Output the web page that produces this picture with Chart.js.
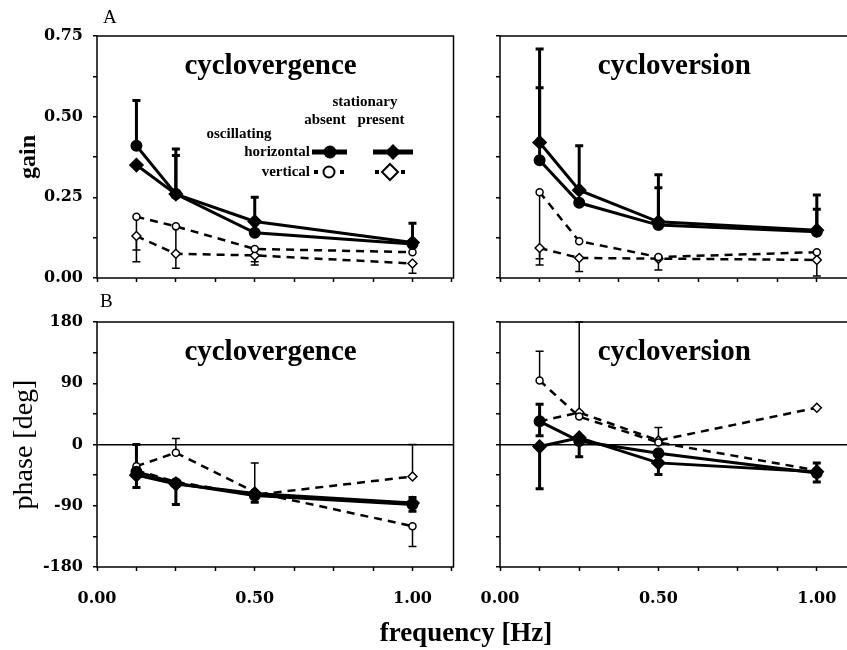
<!DOCTYPE html>
<html>
<head>
<meta charset="utf-8">
<script src="https://cdn.jsdelivr.net/npm/chart.js@4.4.1/dist/chart.umd.min.js"></script>
<style>
  html, body { margin: 0; padding: 0; background: #fff; overflow: hidden; }
  body { position: relative; width: 847px; height: 650px; font-family: "Liberation Serif", serif; }
  canvas { position: absolute; }
  .lbl { position: absolute; color: #000; white-space: nowrap; }
</style>
</head>
<body>
<canvas id="gainVerg" width="470" height="300" style="left:0;top:0"></canvas>
<canvas id="gainVers" width="420" height="300" style="left:460px;top:0"></canvas>
<canvas id="phaseVerg" width="470" height="320" style="left:0;top:300px"></canvas>
<canvas id="phaseVers" width="420" height="320" style="left:460px;top:300px"></canvas>
<div class="lbl" style="left:103px;top:6px;font-size:19px">A</div>
<div class="lbl" style="left:100px;top:290px;font-size:19px">B</div>
<div class="lbl" style="left:316px;top:616px;width:300px;text-align:center;font-size:27px;font-weight:bold;line-height:32px">frequency [Hz]</div>
<script>
// stimulus frequencies (Hz)
var freq = [0.125, 0.25, 0.5, 1.0];

// A: gain, cyclovergence
var gainVergHorAbs  = [0.41, 0.26, 0.14, 0.105];
var gainVergHorPres = [0.35, 0.26, 0.175, 0.11];
var gainVergVerAbs  = [0.19, 0.16, 0.09, 0.08];
var gainVergVerPres = [0.13, 0.075, 0.07, 0.045];
// error bar ends [low, high], null = not drawn
var gainVergHorAbsErr  = [[null, 0.55], [null, 0.40], [null, null], [null, null]];
var gainVergHorPresErr = [[null, null], [null, 0.38], [null, 0.25], [null, 0.17]];
var gainVergVerAbsErr  = [[0.05, null], [0.03, null], [0.04, null], [null, null]];
var gainVergVerPresErr = [[0.087, null], [null, null], [0.05, null], [0.015, null]];

// A: gain, cycloversion
var gainVersHorAbs  = [0.365, 0.233, 0.164, 0.143];
var gainVersHorPres = [0.42, 0.272, 0.174, 0.148];
var gainVersVerAbs  = [0.266, 0.114, 0.065, 0.08];
var gainVersVerPres = [0.093, 0.062, 0.06, 0.056];
var gainVersHorAbsErr  = [[null, 0.59], [null, null], [null, 0.28], [null, 0.213]];
var gainVersHorPresErr = [[null, 0.71], [null, 0.41], [null, 0.32], [null, 0.257]];
var gainVersVerAbsErr  = [[0.04, null], [null, null], [null, null], [null, null]];
var gainVersVerPresErr = [[0.06, null], [0.02, null], [0.025, null], [0.006, null]];

// B: phase, cyclovergence (deg)
var phaseVergHorAbs  = [-40, -57, -75, -88];
var phaseVergHorPres = [-45, -58, -72, -86];
var phaseVergVerAbs  = [-32, -12, -70, -120];
var phaseVergVerPres = [-38, -55, -74, -47];
var phaseVergHorAbsErr  = [[-63, 0], [-88, null], [-85, null], [-98, -78]];
var phaseVergHorPresErr = [[null, null], [null, null], [null, null], [null, null]];
var phaseVergVerAbsErr  = [[null, null], [null, 9], [null, -27], [-150, null]];
var phaseVergVerPresErr = [[null, null], [null, null], [null, null], [null, 0]];

// B: phase, cycloversion (deg)
var phaseVersHorAbs  = [34, 5, -13, -42];
var phaseVersHorPres = [-3, 10, -27, -40];
var phaseVersVerAbs  = [94, 41, 3, -38];
var phaseVersVerPres = [34, 47, 6, 54];
var phaseVersHorAbsErr  = [[13, 59], [-18, null], [null, null], [-55, -27]];
var phaseVersHorPresErr = [[-65, null], [null, null], [-44, null], [null, null]];
var phaseVersVerAbsErr  = [[null, 137], [null, null], [null, null], [null, null]];
var phaseVersVerPresErr = [[null, null], [null, 180], [null, 25], [null, null]];

var tickFont = { family: 'DejaVu Serif', weight: 'bold', size: 16 };

var styles = {
  horAbs:  { borderWidth: 3, pointStyle: 'circle',  pointRadius: 4.5, pointBackgroundColor: '#000', errWidth: 3 },
  horPres: { borderWidth: 3, pointStyle: 'rectRot', pointRadius: 5.5, pointBackgroundColor: '#000', errWidth: 3 },
  verAbs:  { borderWidth: 2.5, borderDash: [8, 6], pointStyle: 'circle',  pointRadius: 3.5, pointBackgroundColor: '#fff', pointBorderWidth: 1.5, errWidth: 1.5 },
  verPres: { borderWidth: 2.5, borderDash: [8, 6], pointStyle: 'rectRot', pointRadius: 4.5, pointBackgroundColor: '#fff', pointBorderWidth: 1.5, errWidth: 1.5 }
};

function series(values, err, kind) {
  var ds = {
    data: freq.map(function (f, i) { return { x: f, y: values[i] }; }),
    err: err,
    borderColor: '#000',
    pointBorderColor: '#000',
    tension: 0
  };
  return Object.assign(ds, styles[kind]);
}

// box around the plot area
var frame = {
  id: 'frame',
  beforeDatasetsDraw: function (chart) {
    var a = chart.chartArea, ctx = chart.ctx;
    ctx.save();
    ctx.strokeStyle = '#000';
    ctx.lineWidth = 1.5;
    ctx.strokeRect(a.left, a.top, a.right - a.left, a.bottom - a.top);
    ctx.restore();
  }
};

// one-sided error bars
var errorBars = {
  id: 'errorBars',
  beforeDatasetsDraw: function (chart) {
    var ctx = chart.ctx, ys = chart.scales.y;
    chart.data.datasets.forEach(function (ds, di) {
      if (!ds.err) return;
      var meta = chart.getDatasetMeta(di);
      ctx.save();
      ctx.strokeStyle = '#000';
      ctx.lineWidth = ds.errWidth;
      ds.err.forEach(function (e, i) {
        var pt = meta.data[i];
        e.forEach(function (v) {
          if (v === null) return;
          var yy = ys.getPixelForValue(v);
          ctx.beginPath();
          ctx.moveTo(pt.x, pt.y);
          ctx.lineTo(pt.x, yy);
          ctx.moveTo(pt.x - 4, yy);
          ctx.lineTo(pt.x + 4, yy);
          ctx.stroke();
        });
      });
      ctx.restore();
    });
  }
};

var panelTitle = {
  id: 'panelTitle',
  afterDraw: function (chart, args, opts) {
    var ctx = chart.ctx;
    ctx.save();
    ctx.fillStyle = '#000';
    ctx.font = 'bold 29px "Liberation Serif"';
    ctx.textAlign = 'center';
    ctx.textBaseline = 'middle';
    ctx.fillText(opts.text, chart.scales.x.getPixelForValue(0.55), chart.chartArea.top + 31);
    ctx.restore();
  }
};

// the 2x2 key in the first panel
var keyBox = {
  id: 'keyBox',
  afterDraw: function (chart) {
    var ctx = chart.ctx, L = chart.chartArea.left, T = chart.chartArea.top;
    ctx.save();
    ctx.fillStyle = '#000';
    ctx.strokeStyle = '#000';
    ctx.font = 'bold 15px "Liberation Serif"';
    ctx.textBaseline = 'middle';
    ctx.textAlign = 'center';
    ctx.fillText('stationary', L + 268, T + 66);
    ctx.fillText('absent', L + 228, T + 84);
    ctx.fillText('present', L + 284, T + 84);
    ctx.fillText('oscillating', L + 142, T + 98);
    ctx.textAlign = 'right';
    ctx.fillText('horizontal', L + 213, T + 116);
    ctx.fillText('vertical', L + 213, T + 136);

    // horizontal: thick solid with filled marker
    ctx.lineWidth = 5;
    ctx.beginPath();
    ctx.moveTo(L + 215, T + 116); ctx.lineTo(L + 250, T + 116);
    ctx.moveTo(L + 276, T + 116); ctx.lineTo(L + 316, T + 116);
    ctx.stroke();
    ctx.beginPath();
    ctx.arc(L + 233, T + 116, 6.5, 0, Math.PI * 2);
    ctx.fill();
    ctx.beginPath();
    ctx.moveTo(L + 296, T + 108); ctx.lineTo(L + 304, T + 116);
    ctx.lineTo(L + 296, T + 124); ctx.lineTo(L + 288, T + 116);
    ctx.closePath();
    ctx.fill();

    // vertical: dash bits with open marker
    [219, 245, 280, 306].forEach(function (dx) {
      ctx.fillRect(L + dx - 2, T + 134, 4, 4);
    });
    ctx.lineWidth = 2;
    ctx.beginPath();
    ctx.arc(L + 232, T + 136, 5.5, 0, Math.PI * 2);
    ctx.stroke();
    ctx.beginPath();
    ctx.moveTo(L + 293, T + 128); ctx.lineTo(L + 301, T + 136);
    ctx.lineTo(L + 293, T + 144); ctx.lineTo(L + 285, T + 136);
    ctx.closePath();
    ctx.stroke();
    ctx.restore();
  }
};

function makePanel(id, o) {
  var isPhase = o.kind === 'phase';
  var plugins = [frame, errorBars, panelTitle];
  if (o.key) plugins.push(keyBox);
  return new Chart(document.getElementById(id), {
    type: 'line',
    data: { datasets: o.datasets },
    options: {
      responsive: false,
      animation: false,
      layout: { padding: o.padding },
      plugins: {
        legend: { display: false },
        tooltip: { enabled: false },
        panelTitle: { text: o.title }
      },
      scales: {
        x: {
          type: 'linear',
          min: 0,
          max: 1.13,
          border: { display: false },
          grid: { drawOnChartArea: false, tickLength: 4, tickColor: '#000', tickWidth: 1.5 },
          ticks: {
            stepSize: 0.125,
            includeBounds: false,
            autoSkip: false,
            maxRotation: 0,
            padding: 18,
            color: '#000',
            font: tickFont,
            callback: function (v) {
              return (o.showX && (v === 0 || v === 0.5 || v === 1)) ? v.toFixed(2) : '';
            }
          },
          afterFit: function (s) { s.height = o.xH; }
        },
        y: {
          type: 'linear',
          min: isPhase ? -180 : 0,
          max: isPhase ? 180 : 0.75,
          border: { display: false },
          grid: {
            drawOnChartArea: isPhase,
            color: function (c) { return c.tick && c.tick.value === 0 ? '#000' : 'rgba(0,0,0,0)'; },
            lineWidth: 1.5,
            tickLength: 4,
            tickColor: '#000',
            tickWidth: 1.5
          },
          ticks: {
            stepSize: isPhase ? 45 : 0.125,
            includeBounds: false,
            autoSkip: false,
            padding: 10,
            color: '#000',
            font: tickFont,
            callback: function (v) {
              if (!o.showY) return '';
              if (isPhase) return v % 90 === 0 ? String(v) : '';
              return Math.abs(v / 0.25 - Math.round(v / 0.25)) < 1e-9 ? v.toFixed(2) : '';
            }
          },
          title: o.yTitle ? {
            display: true,
            text: o.yTitle,
            color: '#000',
            font: o.yTitleFont,
            padding: { top: o.yTitlePad, bottom: 0 }
          } : { display: false },
          afterFit: function (s) { s.width = o.yW; }
        }
      }
    },
    plugins: plugins
  });
}

makePanel('gainVerg', {
  kind: 'gain', title: 'cyclovergence', key: true, showX: false, showY: true,
  yTitle: 'gain', yTitleFont: { family: 'Liberation Serif', weight: 'bold', size: 24 }, yTitlePad: 14,
  padding: { top: 36, right: 15, left: 0, bottom: 0 }, xH: 22, yW: 97,
  datasets: [
    series(gainVergHorAbs, gainVergHorAbsErr, 'horAbs'),
    series(gainVergHorPres, gainVergHorPresErr, 'horPres'),
    series(gainVergVerAbs, gainVergVerAbsErr, 'verAbs'),
    series(gainVergVerPres, gainVergVerPresErr, 'verPres')
  ]
});

makePanel('gainVers', {
  kind: 'gain', title: 'cycloversion', showX: false, showY: false,
  padding: { top: 36, right: 22, left: 0, bottom: 0 }, xH: 22, yW: 40,
  datasets: [
    series(gainVersHorAbs, gainVersHorAbsErr, 'horAbs'),
    series(gainVersHorPres, gainVersHorPresErr, 'horPres'),
    series(gainVersVerAbs, gainVersVerAbsErr, 'verAbs'),
    series(gainVersVerPres, gainVersVerPresErr, 'verPres')
  ]
});

makePanel('phaseVerg', {
  kind: 'phase', title: 'cyclovergence', showX: true, showY: true,
  yTitle: 'phase [deg]', yTitleFont: { family: 'Liberation Serif', weight: 'normal', size: 28 }, yTitlePad: 8,
  padding: { top: 22, right: 15, left: 0, bottom: 0 }, xH: 53, yW: 97,
  datasets: [
    series(phaseVergHorAbs, phaseVergHorAbsErr, 'horAbs'),
    series(phaseVergHorPres, phaseVergHorPresErr, 'horPres'),
    series(phaseVergVerAbs, phaseVergVerAbsErr, 'verAbs'),
    series(phaseVergVerPres, phaseVergVerPresErr, 'verPres')
  ]
});

makePanel('phaseVers', {
  kind: 'phase', title: 'cycloversion', showX: true, showY: false,
  padding: { top: 22, right: 22, left: 0, bottom: 0 }, xH: 53, yW: 40,
  datasets: [
    series(phaseVersHorAbs, phaseVersHorAbsErr, 'horAbs'),
    series(phaseVersHorPres, phaseVersHorPresErr, 'horPres'),
    series(phaseVersVerAbs, phaseVersVerAbsErr, 'verAbs'),
    series(phaseVersVerPres, phaseVersVerPresErr, 'verPres')
  ]
});
</script>
</body>
</html>
